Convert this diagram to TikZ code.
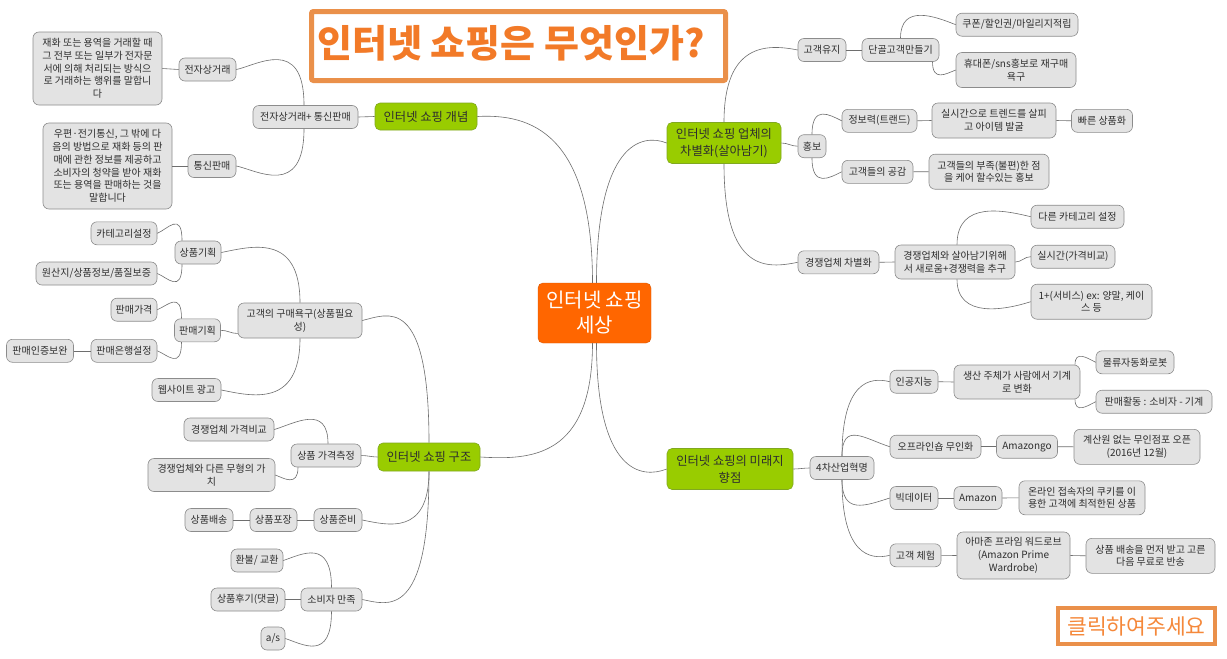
\documentclass[tikz,border=0pt]{standalone}
\usepackage{fontspec}
\setmainfont{Noto Sans CJK KR}
\definecolor{nodef}{HTML}{E3E3E3}
\definecolor{nodeb}{HTML}{8C8C8C}
\definecolor{txt}{HTML}{2E2E2E}
\definecolor{grn}{HTML}{99CC00}
\definecolor{grnb}{HTML}{80A820}
\definecolor{org}{HTML}{FF6600}
\definecolor{orgb}{HTML}{D95700}
\definecolor{ttl}{HTML}{F27A28}
\definecolor{ttltwo}{HTML}{F5883A}
\definecolor{ttlb}{HTML}{EA904A}
\definecolor{lnk}{HTML}{6E6E6E}
\begin{document}
\begin{tikzpicture}[x=1pt,y=-1pt,
  gb/.style={draw=nodeb, fill=nodef, rounded corners=6pt, inner sep=1.5pt, font=\fontsize{10}{12.7}\selectfont, text=txt, align=center, minimum height=23pt, line width=0.6pt},
  gr/.style={draw=grnb, fill=grn, rounded corners=5pt, inner sep=2pt, font=\fontsize{12.3}{17}\selectfont, text=txt, align=center, line width=0.6pt},
  lk/.style={draw=lnk, line width=0.6pt},
]
\useasboundingbox (0,0) rectangle (1227,659);
\fill[white] (0,0) rectangle (1227,659);

% titles
\node[draw=ttlb, line width=5pt, rounded corners=2pt, minimum width=414pt, minimum height=69pt, inner sep=1pt, text=ttl, font=\fontsize{38}{42}\selectfont\bfseries] (title) at (518.5,46) {\raisebox{10pt}{인터넷 쇼핑은 무엇인가?}\hspace*{15pt}};
\node[draw=ttlb, line width=4pt, minimum width=157pt, minimum height=36pt, inner sep=1pt, text=ttltwo, font=\fontsize{21.5}{26}\selectfont] (click) at (1136.5,626) {클릭하여주세요};

% root and main branches
\node[draw=orgb, fill=org, rounded corners=5pt, minimum width=113pt, minimum height=60pt, text=white, font=\fontsize{20}{25}\selectfont, align=center] (root) at (594.5,313) {인터넷 쇼핑\\세상};
\node[gr, minimum width=102pt, minimum height=27pt] (gA) at (426,116.5) {인터넷 쇼핑 개념};
\node[gr, minimum width=102pt, minimum height=28pt] (gB) at (429,457) {인터넷 쇼핑 구조};
\node[gr, minimum width=114pt, minimum height=41pt] (gC) at (724,143) {인터넷 쇼핑 업체의\\차별화(살아남기)};
\node[gr, minimum width=126pt, minimum height=41pt] (gD) at (730,469) {인터넷 쇼핑의 미래지\\향점};

% left top
\node[gb, minimum width=105pt] (ecm) at (305.5,117) {전자상거래+ 통신판매};
\node[gb, minimum width=57pt] (ec) at (207.5,69.5) {전자상거래};
\node[gb, minimum width=129pt, minimum height=73pt] (ect) at (97.5,68.5) {재화 또는 용역을 거래할 때\\그 전부 또는 일부가 전자문\\서에 의해 처리되는 방식으\\로 거래하는 행위를 말합니\\다};
\node[gb, minimum width=48pt] (ms) at (212,166) {통신판매};
\node[gb, minimum width=129pt, minimum height=86pt] (mst) at (107.5,166) {우편·전기통신, 그 밖에 다\\음의 방법으로 재화 등의 판\\매에 관한 정보를 제공하고\\소비자의 청약을 받아 재화\\또는 용역을 판매하는 것을\\말합니다};

% left middle
\node[gb, minimum width=124pt, minimum height=35pt] (need) at (300,320.5) {고객의 구매욕구(상품필요\\성)};
\node[gb, minimum width=46pt] (plan) at (198,252.5) {상품기획};
\node[gb, minimum width=66pt] (cat) at (124,233.3) {카테고리설정};
\node[gb, minimum width=121pt] (orig) at (96.5,273.5) {원산지/상품정보/품질보증};
\node[gb, minimum width=46pt] (splan) at (197.5,330.3) {판매기획};
\node[gb, minimum width=46pt] (price) at (134,309.7) {판매가격};
\node[gb, minimum width=66pt] (bank) at (124,350.8) {판매은행설정};
\node[gb, minimum width=67pt] (auth) at (40,350.8) {판매인증보완};
\node[gb, minimum width=69pt] (web) at (186.5,390) {웹사이트 광고};

% left bottom
\node[gb, minimum width=70pt] (pm) at (326,455.5) {상품 가격측정};
\node[gb, minimum width=90pt] (cmp) at (229,429.5) {경쟁업체 가격비교};
\node[gb, minimum width=127pt, minimum height=33pt] (val) at (211.5,475) {경쟁업체와 다른 무형의 가\\치};
\node[gb, minimum width=48pt] (prep) at (338,520) {상품준비};
\node[gb, minimum width=47pt] (pack) at (273.5,520) {상품포장};
\node[gb, minimum width=48pt] (ship) at (209,520) {상품배송};
\node[gb, minimum width=61pt] (sat) at (331.5,599.5) {소비자 만족};
\node[gb, minimum width=52pt] (refd) at (257,560.5) {환불/ 교환};
\node[gb, minimum width=74pt] (rev) at (248,599.5) {상품후기(댓글)};
\node[gb, minimum width=24pt] (asv) at (273,638.5) {a/s};

% right top
\node[gb, minimum width=48pt] (keep) at (822,50) {고객유지};
\node[gb, minimum width=77pt] (loyal) at (900.5,50) {단골고객만들기};
\node[gb, minimum width=122pt] (coup) at (1017,24.7) {쿠폰/할인권/마일리지적립};
\node[gb, minimum width=120pt, minimum height=35pt] (phone) at (1016,70) {휴대폰/sns홍보로 재구매\\욕구};
\node[gb, minimum width=28pt] (promo) at (812,146.2) {홍보};
\node[gb, minimum width=75pt] (info) at (879.5,120.8) {정보력(트랜드)};
\node[gb, minimum width=124pt, minimum height=35pt] (trend) at (994,120.5) {실시간으로 트렌드를 살피\\고 아이템 발굴};
\node[gb, minimum width=61pt] (fast) at (1102,120.8) {빠른 상품화};
\node[gb, minimum width=71pt] (emp) at (877.5,171.8) {고객들의 공감};
\node[gb, minimum width=120pt, minimum height=35pt] (care) at (989,171.7) {고객들의 부족(불편)한 점\\을 케어 할수있는 홍보};
\node[gb, minimum width=81pt] (comp) at (838.5,262.3) {경쟁업체 차별화};
\node[gb, minimum width=120pt, minimum height=34pt] (surv) at (955,262) {경쟁업체와 살아남기위해\\서 새로움+경쟁력을 추구};
\node[gb, minimum width=93pt] (ocat) at (1077.5,216.7) {다른 카테고리 설정};
\node[gb, minimum width=84pt] (rt) at (1073,256.7) {실시간(가격비교)};
\node[gb, minimum width=121pt, minimum height=35pt] (plus) at (1091.5,301.7) {1+(서비스) ex: 양말, 케이\\스 등};

% right bottom
\node[gb, minimum width=64pt] (irf) at (842,468) {4차산업혁명};
\node[gb, minimum width=48pt] (ai) at (914,381.7) {인공지능};
\node[gb, minimum width=126pt, minimum height=34pt] (aitx) at (1017,382) {생산 주체가 사람에서 기계\\로 변화};
\node[gb, minimum width=78pt] (robot) at (1135,362.3) {물류자동화로봇};
\node[gb, minimum width=116pt] (sale) at (1154,401.7) {판매활동 : 소비자 - 기계};
\node[gb, minimum width=91pt] (off) at (935.5,446.7) {오프라인숍 무인화};
\node[gb, minimum width=61pt] (ago) at (1027,446.7) {Amazongo};
\node[gb, minimum width=126pt, minimum height=35pt] (cash) at (1137,446.8) {계산원 없는 무인점포 오픈\\(2016년 12월)};
\node[gb, minimum width=48pt] (big) at (914,498) {빅데이터};
\node[gb, minimum width=48pt] (amz) at (978,498) {Amazon};
\node[gb, minimum width=126pt, minimum height=34pt] (cookie) at (1082,497.8) {온라인 접속자의 쿠키를 이\\용한 고객에 최적한된 상품};
\node[gb, minimum width=51pt] (exper) at (915.5,555.3) {고객 체험};
\node[gb, minimum width=113pt, minimum height=47pt] (prime) at (1013.5,555.5) {아마존 프라임 워드로브\\(Amazon Prime\\Wardrobe)};
\node[gb, minimum width=129pt, minimum height=35pt] (ret) at (1150.5,555.8) {상품 배송을 먼저 받고 고른\\다음 무료로 반송};

% connectors: root
\draw[lk] ([xshift=-2pt]root.north) .. controls +(0,-150) and +(53,-3) .. (gA.east);
\draw[lk] ([xshift=-2pt]root.south) .. controls +(0,115) and +(50,3) .. (gB.east);
\draw[lk] ([xshift=2pt]root.north) .. controls +(0,-140) and +(-25,-10) .. (gC.west);
\draw[lk] ([xshift=2pt]root.south) .. controls +(0,130) and +(-25,10) .. (gD.west);

% left top
\draw[lk] (gA.west) -- (ecm.east);
\draw[lk] ([xshift=-1.5pt]ecm.north) .. controls +(0,-70) and +(20,-4) .. (ec.east);
\draw[lk] ([xshift=-1.5pt]ecm.south) .. controls +(0,70) and +(20,4) .. (ms.east);
\draw[lk] (ec.west) -- (ect.east);
\draw[lk] (ms.west) -- (mst.east);

% left middle / bottom
\draw[lk] (gB.west) to[out=180,in=0] (pm.east);
\draw[lk] (gB.north) .. controls +(0,-150) and +(25,-6) .. (need.east);
\draw[lk] (gB.south) .. controls +(0,65) and +(25,5) .. (prep.east);
\draw[lk] (gB.south) .. controls +(0,150) and +(25,5) .. (sat.east);
\draw[lk] (need.north) .. controls +(0,-70) and +(30,-6) .. (plan.east);
\draw[lk] ([yshift=-13pt]need.west) to[out=180,in=0] (splan.east);
\draw[lk] (need.south) .. controls +(0,70) and +(30,6) .. (web.east);
\draw[lk] ([xshift=-16pt]plan.north) .. controls +(0,-30) and +(10,-4) .. (cat.east);
\draw[lk] ([xshift=-16pt]plan.south) .. controls +(0,30) and +(10,4) .. (orig.east);
\draw[lk] ([xshift=-16pt]splan.north) .. controls +(0,-28) and +(10,-4) .. (price.east);
\draw[lk] ([xshift=-16pt]splan.south) .. controls +(0,28) and +(10,4) .. (bank.east);
\draw[lk] (bank.west) -- (auth.east);
\draw[lk] ([xshift=2pt]pm.north) .. controls +(0,-40) and +(20,-6) .. (cmp.east);
\draw[lk] ([xshift=-28pt]pm.south) .. controls +(0,20) and +(8,3) .. (val.east);
\draw[lk] (prep.west) -- (pack.east);
\draw[lk] (pack.west) -- (ship.east);
\draw[lk] (sat.north) .. controls +(0,-50) and +(18,-6) .. (refd.east);
\draw[lk] (sat.west) -- (rev.east);
\draw[lk] (sat.south) .. controls +(0,50) and +(18,6) .. (asv.east);

% right top
\draw[lk] (gC.north) .. controls +(0,-80) and +(-30,-6) .. (keep.west);
\draw[lk] (gC.east) to[out=0,in=180] (promo.west);
\draw[lk] (gC.south) .. controls +(0,110) and +(-30,6) .. (comp.west);
\draw[lk] (keep.east) -- (loyal.west);
\draw[lk] (loyal.north) .. controls +(0,-35) and +(-20,-8) .. (coup.west);
\draw[lk] ([xshift=32pt]loyal.south) .. controls +(0,20) and +(-10,4) .. (phone.west);
\draw[lk] (promo.north) .. controls +(0,-30) and +(-12,-6) .. (info.west);
\draw[lk] (promo.south) .. controls +(0,30) and +(-12,6) .. (emp.west);
\draw[lk] (info.east) -- (trend.west);
\draw[lk] (trend.east) -- (fast.west);
\draw[lk] (emp.east) -- (care.west);
\draw[lk] (comp.east) -- (surv.west);
\draw[lk] ([xshift=2pt]surv.north) .. controls +(0,-45) and +(-25,-6) .. (ocat.west);
\draw[lk] (surv.east) to[out=0,in=180] (rt.west);
\draw[lk] ([xshift=2pt]surv.south) .. controls +(0,40) and +(-25,8) .. (plus.west);

% right bottom
\draw[lk] (gD.east) to[out=0,in=180] (irf.west);
\draw[lk] (irf.north) .. controls +(0,-75) and +(-20,-5) .. (ai.west);
\draw[lk] (irf.north) .. controls +(0,-35) and +(-25,-8) .. (off.west);
\draw[lk] (irf.south) .. controls +(0,35) and +(-25,8) .. (big.west);
\draw[lk] (irf.south) .. controls +(0,75) and +(-20,5) .. (exper.west);
\draw[lk] (ai.east) -- (aitx.west);
\draw[lk] ([xshift=58pt]aitx.north) .. controls +(0,-15) and +(-8,-4) .. (robot.west);
\draw[lk] ([xshift=58pt]aitx.south) .. controls +(0,15) and +(-8,4) .. (sale.west);
\draw[lk] (off.east) -- (ago.west);
\draw[lk] (ago.east) -- (cash.west);
\draw[lk] (big.east) -- (amz.west);
\draw[lk] (amz.east) -- (cookie.west);
\draw[lk] (exper.east) -- (prime.west);
\draw[lk] (prime.east) -- (ret.west);
\end{tikzpicture}
\end{document}
